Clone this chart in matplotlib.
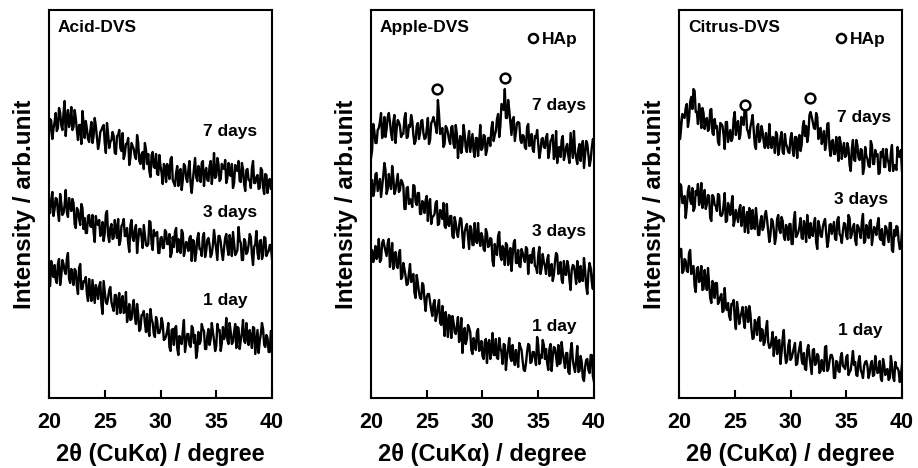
import numpy as np
import matplotlib
matplotlib.use("Agg")
import matplotlib.pyplot as plt

plt.rcParams['font.family'] = ['Liberation Sans', 'DejaVu Sans']
plt.rcParams['font.weight'] = 'bold'

# 2-theta sampling grid (degrees), step 0.1
two_theta = np.round(np.linspace(20, 40, 201), 1)

# ---- Acid-DVS (intensity, arb. unit) ----
acid_7d = [262,279, 277,259, 269,276, 285,267, 270,290, 285,273, 268,285, 297,262, 280,288, 271,277,
           291,268, 271,288, 280,268, 258,273, 273,254, 287,275, 260,277, 269,259, 256,267, 276,255,
           262,280, 272,260, 249,255, 266,268, 271,273, 255,245, 275,264, 250,256, 258,266, 262,245,
           244,262, 263,268, 250,247, 265,239, 244,254, 254,260, 233,240, 255,252, 249,242, 239,263,
           255,237, 234,244, 246,229, 255,248, 234,244, 227,221, 243,246, 231,230, 244,224, 223,243,
           232,225, 214,234, 232,216, 234,227, 219,239, 241,218, 215,212, 225,232, 212,227, 229,208,
           218,234, 232,220, 216,228, 237,214, 205,218, 229,240, 221,217, 232,227, 216,235, 237,212,
           226,230, 218,217, 232,237, 214,225, 245,220, 222,240, 234,217, 219,234, 230,229, 238,215,
           220,235, 224,222, 234,210, 215,233, 228,227, 237,217, 216,235, 229,214, 207,228, 229,218,
           218,210, 230,237, 215,215, 221,223, 209,210, 230,228, 211,204, 224,223, 205,217, 219,209,
           212]
acid_3d = [192,185, 198,206, 182,189, 200,199, 186,177, 204,195, 183,185, 193,208, 186,181, 200,191,
           187,199, 195,174, 170,190, 188,179, 173,194, 190,169, 180,165, 165,182, 183,172, 171,183,
           166,156, 182,175, 173,178, 162,164, 176,157, 165,184, 187,163, 156,170, 174,159, 160,178,
           168,160, 179,153, 157,172, 174,179, 162,162, 170,155, 146,173, 178,160, 157,168, 173,145,
           158,169, 169,161, 150,173, 163,153, 152,154, 177,176, 154,148, 168,162, 164,166, 145,145,
           160,161, 150,150, 168,166, 154,154, 164,141, 145,161, 151,166, 170,146, 159,150, 145,168,
           165,142, 148,156, 155,147, 160,162, 137,158, 157,137, 145,159, 165,149, 149,142, 161,165,
           141,147, 158,160, 153,141, 144,153, 168,158, 147,138, 162,162, 156,145, 138,150, 160,164,
           150,143, 163,156, 142,166, 154,143, 145,148, 171,158, 155,138, 138,159, 157,144, 146,153,
           164,161, 143,133, 151,154, 167,145, 139,157, 158,139, 143,161, 160,142, 145,147, 153,153,
           139]
acid_1d = [112,112, 137,125, 121,133, 119,115, 134,139, 113,122, 138,134, 127,124, 139,145, 119,115,
           129,122, 113,129, 127,112, 104,130, 134,109, 109,117, 116,121, 104,97, 119,106, 97,118,
           106,95, 113,108, 99,112, 116,94, 84,117, 106,96, 94,100, 108,111, 96,91, 87,103,
           103,84, 97,105, 85,97, 102,85, 86,106, 76,84, 94,78, 79,91, 98,81, 74,94,
           84,67, 69,83, 83,87, 75,66, 84,69, 62,89, 79,75, 64,61, 81,77, 65,65,
           69,80, 74,58, 59,62, 67,75, 51,47, 68,69, 53,70, 72,50, 43,62, 59,54,
           67,78, 46,55, 64,64, 53,51, 72,70, 55,63, 40,47, 66,54, 57,74, 69,67,
           49,49, 62,69, 53,59, 75,66, 58,47, 52,74, 67,68, 47,55, 71,59, 63,80,
           58,54, 75,66, 54,56, 66,74, 50,71, 70,49, 58,65, 78,57, 55,75, 60,53,
           68,61, 50,71, 70,44, 56,68, 45,57, 64,75, 69,53, 51,63, 60,46, 46,67,
           64]

# ---- Apple-DVS ----
apple_7d = [240,248, 274,267, 255,255, 268,270, 276,285, 260,265, 281,261, 269,281, 285,276, 265,258,
            276,283, 255,269, 278,276, 272,261, 264,264, 280,285, 260,261, 273,271, 283,277, 263,254,
            257,272, 275,259, 265,277, 278,265, 259,260, 269,280, 254,258, 275,277, 281,276, 271,265,
            298,284, 264,266, 270,251, 254,272, 270,265, 258,254, 271,272, 254,250, 273,264, 240,254,
            262,245, 253,273, 264,250, 246,259, 267,246, 255,264, 247,241, 260,260, 242,255, 273,248,
            250,263, 262,243, 248,260, 260,252, 270,276, 257,263, 267,279, 284,261, 272,294, 291,288,
            309,280, 280,298, 288,275, 263,278, 281,257, 266,275, 276,275, 258,255, 263,262, 251,249,
            271,274, 252,253, 264,249, 246,262, 260,268, 254,240, 247,259, 260,251, 250,261, 264,240,
            246,257, 259,263, 239,243, 267,235, 250,251, 241,258, 262,238, 243,251, 254,242, 235,265,
            252,240, 267,247, 240,234, 249,254, 237,252, 257,230, 244,257, 254,243, 232,238, 250,259,
            256]
apple_3d = [213,218, 202,207, 224,225, 207,213, 219,201, 211,222, 235,228, 204,209, 224,214, 209,232,
            221,204, 208,216, 224,206, 208,218, 216,212, 189,189, 210,211, 194,199, 196,191, 213,212,
            196,193, 205,205, 184,184, 197,195, 185,198, 202,177, 194,199, 174,181, 182,184, 195,197,
            173,174, 188,185, 179,195, 172,170, 194,174, 172,182, 182,162, 160,181, 175,165, 161,172,
            180,179, 162,150, 166,171, 174,161, 149,172, 169,153, 153,175, 158,155, 175,159, 152,165,
            161,149, 147,169, 165,151, 152,160, 159,137, 132,154, 146,143, 162,166, 142,138, 152,148,
            133,155, 153,133, 144,150, 127,142, 155,158, 135,135, 148,132, 131,149, 145,140, 136,151,
            149,124, 142,143, 135,147, 150,132, 131,125, 143,151, 124,130, 144,136, 132,124, 138,143,
            122,124, 134,117, 123,136, 145,143, 124,126, 136,118, 115,137, 124,123, 137,132, 118,108,
            128,133, 132,124, 114,137, 122,116, 132,118, 117,140, 128,112, 104,126, 135,130, 116,109,
            129]
apple_1d = [144,148, 136,143, 152,139, 142,159, 136,138, 155,158, 152,147, 142,155, 159,131, 142,155,
            129,144, 146,132, 130,144, 148,119, 121,135, 129,122, 113,114, 125,134, 116,121, 124,105,
            100,123, 115,106, 100,99, 115,113, 98,87, 101,104, 104,96, 88,82, 94,98, 77,83,
            91,98, 75,73, 92,78, 62,86, 76,61, 83,80, 60,82, 76,66, 64,72, 81,56,
            62,80, 45,61, 70,54, 59,73, 70,66, 48,44, 60,55, 48,66, 69,47, 49,57,
            42,39, 56,59, 35,54, 58,39, 48,65, 43,43, 59,40, 39,60, 50,46, 34,54,
            53,28, 41,50, 60,40, 37,53, 41,33, 48,39, 31,55, 51,48, 37,28, 27,35,
            46,54, 53,35, 36,46, 46,40, 33,61, 53,34, 43,40, 58,53, 39,49, 35,28,
            49,54, 27,42, 51,50, 41,32, 53,34, 35,56, 45,38, 30,45, 45,26, 24,47,
            55,38, 31,26, 38,52, 26,27, 42,36, 20,17, 31,38, 39,28, 25,43, 43,22,
            16]

# ---- Citrus-DVS ----
citrus_7d = [281,259, 271,284, 282,280, 290,294, 271,279, 296,301, 289,309, 307,286, 286,274, 294,286,
             270,290, 285,269, 278,280, 267,269, 288,289, 265,263, 279,270, 272,256, 253,275, 274,272,
             263,249, 276,276, 256,262, 268,257, 260,279, 286,263, 273,277, 259,263, 281,278, 273,292,
             291,269, 266,260, 271,276, 283,268, 253,249, 271,274, 256,259, 272,266, 256,250, 265,253,
             250,274, 255,250, 261,260, 245,266, 263,243, 249,260, 266,246, 244,264, 254,251, 246,245,
             260,265, 248,242, 261,261, 240,258, 263,247, 253,271, 277,262, 272,256, 263,283, 286,281,
             276,270, 269,285, 281,259, 269,270, 254,258, 267,248, 254,274, 275,250, 242,257, 258,244,
             244,261, 251,237, 261,255, 239,249, 255,241, 243,255, 250,233, 227,249, 258,238, 237,258,
             253,240, 238,249, 248,224, 230,251, 242,239, 232,231, 257,253, 234,234, 248,242, 244,224,
             225,246, 241,249, 231,231, 249,239, 235,227, 245,253, 227,233, 232,228, 251,242, 241,248,
             227]
citrus_3d = [191,214, 212,195, 195,202, 180,191, 207,212, 198,194, 210,187, 190,207, 203,214, 193,198,
             215,190, 196,208, 189,194, 203,202, 180,177, 203,201, 193,192, 187,204, 203,183, 182,184,
             193,205, 176,177, 195,190, 183,194, 202,172, 178,188, 182,176, 189,193, 172,180, 191,166,
             176,186, 165,190, 183,169, 188,173, 169,190, 178,163, 163,177, 182,168, 171,183, 187,178,
             167,156, 163,179, 177,168, 154,161, 179,183, 168,165, 181,177, 162,158, 173,169, 158,174,
             174,154, 154,178, 186,161, 163,166, 171,180, 160,159, 177,172, 156,183, 167,160, 175,165,
             162,175, 180,156, 149,177, 172,162, 161,171, 176,179, 165,151, 157,173, 174,164, 170,176,
             159,158, 178,181, 164,162, 155,167, 175,174, 162,159, 183,180, 160,164, 171,174, 158,153,
             173,171, 166,160, 176,184, 155,157, 173,168, 160,176, 178,153, 162,171, 168,163, 174,180,
             160,158, 169,154, 153,172, 170,163, 156,175, 175,148, 146,168, 162,172, 171,157, 149,151,
             167]
citrus_1d = [140,149, 149,125, 127,139, 137,127, 126,145, 148,124, 131,132, 112,106, 129,131, 116,118,
             132,108, 109,128, 116,108, 130,114, 100,95, 117,114, 100,115, 115,94, 97,101, 104,86,
             87,110, 91,88, 95,82, 78,94, 94,98, 79,69, 96,88, 74,81, 85,91, 77,70,
             91,87, 76,92, 85,69, 59,60, 78,74, 63,79, 81,57, 69,68, 53,56, 69,77,
             56,50, 51,57, 66,42, 57,61, 44,57, 58,34, 46,60, 68,45, 35,38, 52,58,
             38,40, 45,50, 55,33, 34,44, 50,56, 38,34, 45,29, 28,48, 53,42, 33,24,
             48,49, 33,35, 44,42, 25,27, 38,30, 27,51, 52,27, 29,37, 43,43, 39,20,
             20,37, 36,27, 26,41, 45,32, 31,29, 41,43, 23,26, 28,37, 47,33, 36,23,
             22,37, 42,28, 25,20, 32,36, 37,32, 20,25, 34,37, 22,23, 42,32, 25,26,
             37,20, 17,39, 33,23, 28,29, 18,20, 42,33, 21,17, 36,30, 30,27, 16,22,
             34]

panel_names = ["Acid-DVS", "Apple-DVS", "Citrus-DVS"]
day_labels = ["7 days", "3 days", "1 day"]
series = [[acid_7d, acid_3d, acid_1d],
          [apple_7d, apple_3d, apple_1d],
          [citrus_7d, citrus_3d, citrus_1d]]
# label anchor positions (2theta, intensity)
label_pos = [[(33.8, 266), (33.8, 185), (33.8, 98)],
             [(34.4, 292), (34.4, 166), (34.4, 71)],
             [(34.2, 280), (33.9, 198), (34.3, 68)]]
# HAp peak markers (2theta, intensity)
hap_peaks = [[],
             [(25.9, 309), (32.0, 320)],
             [(25.9, 293), (31.75, 300)]]
show_hap_legend = [False, True, True]

fig = plt.figure(figsize=(9.18, 4.68), dpi=100)
lefts = [49, 371, 679]
for k in range(3):
    ax = fig.add_axes([lefts[k] / 918, (468 - 398) / 468, 223 / 918, 388 / 468])
    for s in series[k]:
        ax.plot(two_theta, s, color='black', lw=1.7)
    ax.set_xlim(20, 40)
    ax.set_ylim(0, 388)
    ax.set_yticks([])
    ax.set_xticks([20, 25, 30, 35, 40])
    ax.set_xticklabels(['20', '25', '30', '35', '40'], fontsize=15.5, fontweight='bold')
    ax.tick_params(axis='x', direction='in', length=6, width=1.5, pad=10)
    for sp in ax.spines.values():
        sp.set_linewidth(1.5)
    ax.set_xlabel('2\u03b8 (CuK\u03b1) / degree', fontsize=17, fontweight='bold', labelpad=7)
    ax.set_ylabel('Intensity / arb.unit', fontsize=17.5, fontweight='bold', labelpad=9)
    ax.text(0.04, 0.955, panel_names[k], transform=ax.transAxes, fontsize=12.5,
            fontweight='bold', ha='left', va='center')
    for (lx, ly), lab in zip(label_pos[k], day_labels):
        ax.text(lx, ly, lab, fontsize=12.5, fontweight='bold', ha='left', va='center')
    for (px, py) in hap_peaks[k]:
        ax.plot(px, py, 'o', mfc='white', mec='black', ms=7, mew=1.8)
    if show_hap_legend[k]:
        ax.plot(0.725, 0.928, 'o', mfc='white', mec='black', ms=6.5, mew=1.8,
                transform=ax.transAxes, clip_on=False)
        ax.text(0.765, 0.925, 'HAp', transform=ax.transAxes, fontsize=12.5,
                fontweight='bold', ha='left', va='center')

fig.savefig('out.png', dpi=100)
